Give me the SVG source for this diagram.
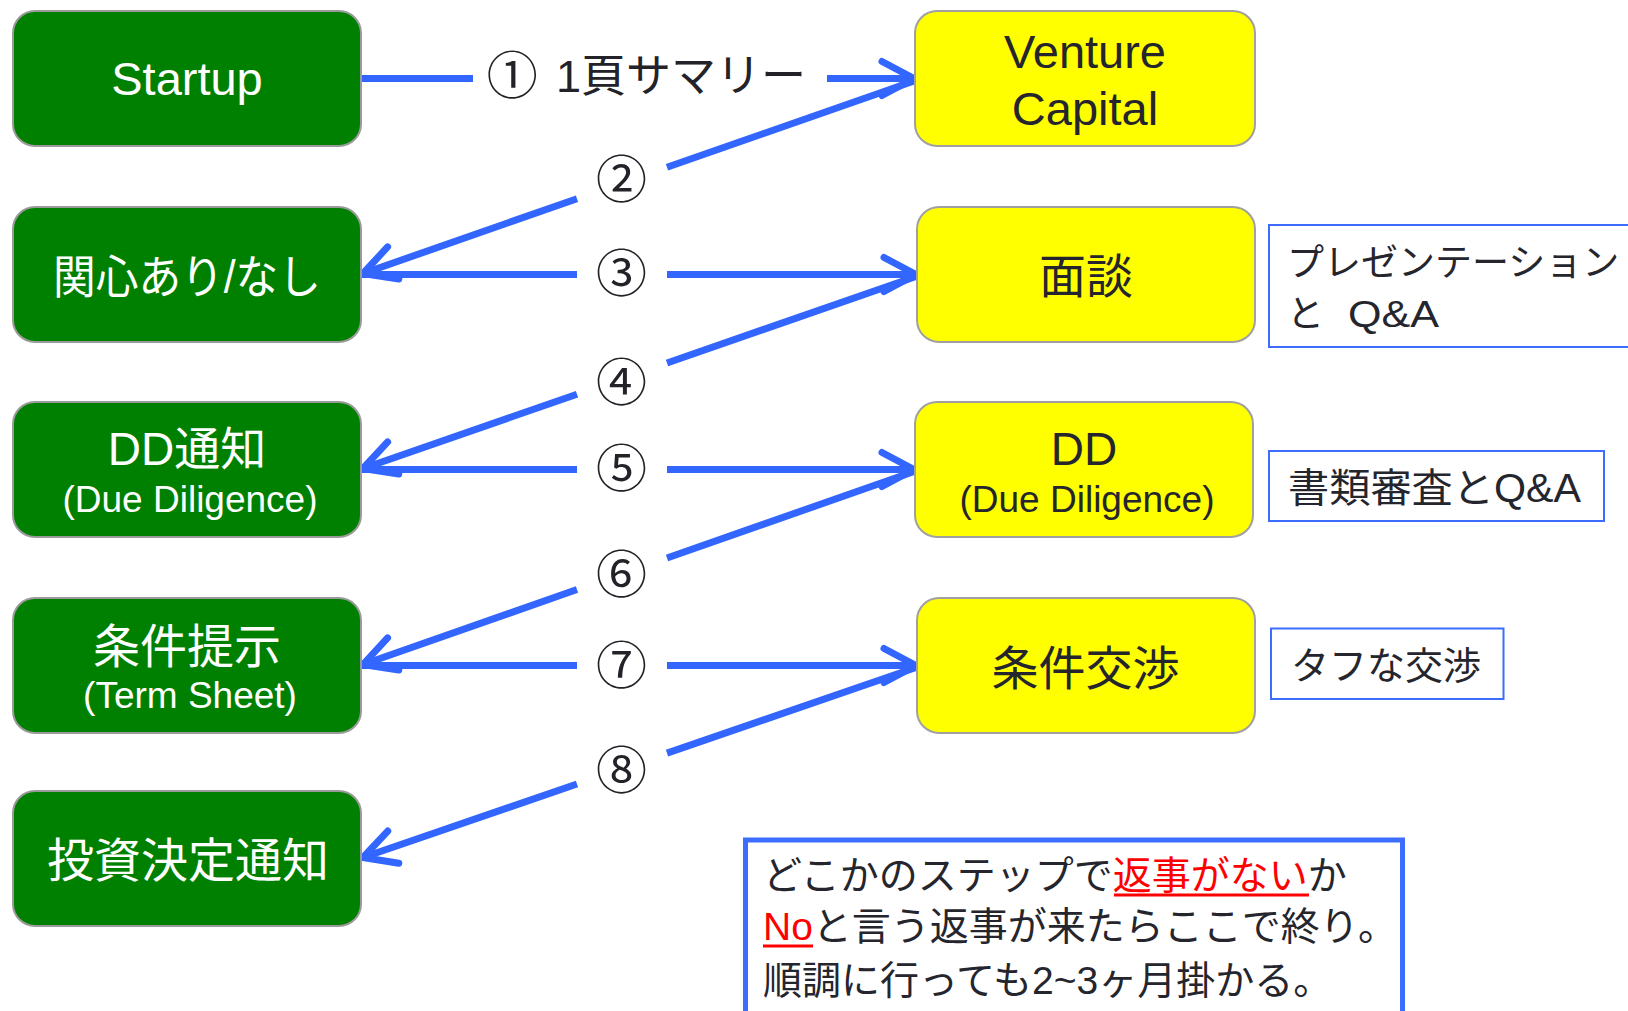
<svg xmlns="http://www.w3.org/2000/svg" width="1628" height="1011" viewBox="0 0 1628 1011">
<style>
.g{fill:#008000;stroke:#9a9a9a;stroke-width:2}
.y{fill:#ffff00;stroke:#a0a0a0;stroke-width:2}
.note{fill:#ffffff;stroke:#3c6dff;stroke-width:2}
.t{font-family:"Liberation Sans","Noto Sans CJK JP",sans-serif}
.w{fill:#ffffff}
.d{fill:#25252d}
.red{fill:#ff0000}
.c{stroke:#3366ff;stroke-width:7;fill:none;marker-end:url(#ah)}
.lab{font-family:"Noto Sans CJK JP",sans-serif;fill:#222228;text-anchor:middle}
</style>
<defs>
<marker id="ah" viewBox="-40 -25 46 50" refX="0" refY="0" markerWidth="46" markerHeight="50" markerUnits="userSpaceOnUse" orient="auto">
<path d="M-32,-17 L0,0 L-32,17" fill="none" stroke="#3366ff" stroke-width="7" stroke-linejoin="round" stroke-linecap="round"/>
</marker>
</defs>
<rect width="1628" height="1011" fill="#ffffff"/>

<g id="connectors">
<path class="c" d="M361,78.5 L473,78.5 M827,78.5 L914,78.5"/>
<path class="c" d="M914,81 L667,167.3 M577,198.7 L363,273.5"/>
<path class="c" d="M361,274.5 L577,274.5 M667,274.5 L916,274.5"/>
<path class="c" d="M916,276.5 L667,363 M577,394.2 L363,468.5"/>
<path class="c" d="M361,469.5 L577,469.5 M667,469.5 L914,469.5"/>
<path class="c" d="M914,471.5 L667,558 M577,589.5 L363,664.5"/>
<path class="c" d="M361,665.5 L577,665.5 M667,665.5 L916,665.5"/>
<path class="c" d="M916,667.5 L667,753.1 M577,784 L363,857.5"/>
<g id="connector-labels">
<text class="lab" font-size="51" x="518" y="94">① <tspan x="556" y="92" font-size="45" text-anchor="start" font-family="Liberation Sans, Noto Sans CJK JP, sans-serif">1頁サマリー</tspan></text>
<text class="lab" font-size="51" x="621.5" y="198">②</text>
<text class="lab" font-size="51" x="621.5" y="292">③</text>
<text class="lab" font-size="51" x="621.5" y="401">④</text>
<text class="lab" font-size="51" x="621.5" y="487">⑤</text>
<text class="lab" font-size="51" x="621.5" y="593">⑥</text>
<text class="lab" font-size="51" x="621.5" y="684">⑦</text>
<text class="lab" font-size="51" x="621.5" y="789">⑧</text>
</g>
</g>

<g id="n-startup">
<rect class="g" x="13" y="11" width="348" height="135" rx="22"/>
<text class="t w" font-size="47" x="187" y="95" text-anchor="middle">Startup</text>
</g>
<g id="n-interest">
<rect class="g" x="13" y="207" width="348" height="135" rx="22"/>
<text class="t w" font-size="46" x="53" y="293" textLength="268" lengthAdjust="spacingAndGlyphs">関心あり/なし</text>
</g>
<g id="n-dd-notice">
<rect class="g" x="13" y="402" width="348" height="135" rx="22"/>
<text class="t w" font-size="46" x="187" y="465" text-anchor="middle">DD通知</text>
<text class="t w" font-size="37" x="190" y="512" text-anchor="middle">(Due Diligence)</text>
</g>
<g id="n-terms">
<rect class="g" x="13" y="598" width="348" height="135" rx="22"/>
<text class="t w" font-size="47" x="187" y="663" text-anchor="middle">条件提示</text>
<text class="t w" font-size="37" x="190" y="708" text-anchor="middle">(Term Sheet)</text>
</g>
<g id="n-decision">
<rect class="g" x="13" y="791" width="348" height="135" rx="22"/>
<text class="t w" font-size="47" x="188" y="877" text-anchor="middle">投資決定通知</text>
</g>

<g id="n-vc">
<rect class="y" x="915" y="11" width="340" height="135" rx="22"/>
<text class="t d" font-size="47" x="1085" y="68" text-anchor="middle">Venture</text>
<text class="t d" font-size="47" x="1085" y="125" text-anchor="middle">Capital</text>
</g>
<g id="n-meeting">
<rect class="y" x="917" y="207" width="338" height="135" rx="22"/>
<text class="t d" font-size="47" x="1086" y="293" text-anchor="middle">面談</text>
</g>
<g id="n-dd">
<rect class="y" x="915" y="402" width="338" height="135" rx="22"/>
<text class="t d" font-size="46" x="1084" y="465" text-anchor="middle">DD</text>
<text class="t d" font-size="37" x="1087" y="512" text-anchor="middle">(Due Diligence)</text>
</g>
<g id="n-negotiation">
<rect class="y" x="917" y="598" width="338" height="135" rx="22"/>
<text class="t d" font-size="47" x="1085.5" y="685" text-anchor="middle">条件交渉</text>
</g>

<g id="note-presentation">
<rect class="note" x="1269" y="225" width="380" height="122"/>
<text class="t d" font-size="37" x="1287" y="276">プレゼンテーション</text>
<text class="t d" font-size="37" x="1287" y="327">と<tspan x="1348" textLength="91" lengthAdjust="spacingAndGlyphs">Q&amp;A</tspan></text>
</g>
<g id="note-documents">
<rect class="note" x="1269" y="451" width="335" height="70"/>
<text class="t d" font-size="40" x="1288" y="502" textLength="293" lengthAdjust="spacingAndGlyphs">書類審査とQ&amp;A</text>
</g>
<g id="note-tough">
<rect class="note" x="1271" y="628.5" width="232.5" height="70.5"/>
<text class="t d" font-size="38" x="1291" y="679">タフな交渉</text>
</g>

<g id="note-summary">
<rect x="745.5" y="840" width="657" height="200" fill="#ffffff" stroke="#3c6dff" stroke-width="5"/>
<text class="t d" font-size="39" x="763" y="889">どこかのステップで<tspan class="red">返事がない</tspan>か</text>
<text class="t d" font-size="39" x="763" y="940"><tspan class="red">No</tspan>と言う返事が来たらここで終り。</text>
<text class="t d" font-size="39" x="763" y="994">順調に行っても2~3ヶ月掛かる。</text>
<rect x="1114" y="893.5" width="195" height="3" fill="#ff0000"/>
<rect x="763" y="944.5" width="50" height="3" fill="#ff0000"/>
</g>
</svg>
